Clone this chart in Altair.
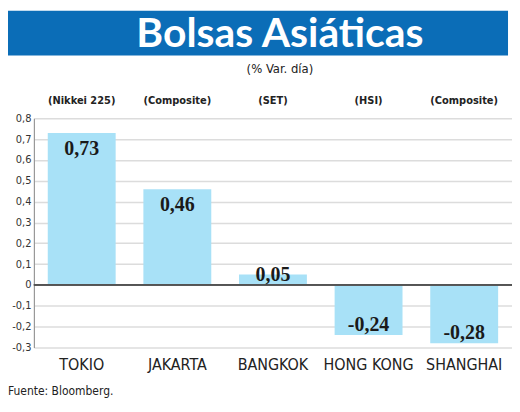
import pandas as pd
import altair as alt

# Data
cities = ["TOKIO", "JAKARTA", "BANGKOK", "HONG KONG", "SHANGHAI"]
indices = ["(Nikkei 225)", "(Composite)", "(SET)", "(HSI)", "(Composite)"]
changes = [0.73, 0.46, 0.05, -0.24, -0.28]
ticks = [-0.3, -0.2, -0.1, 0, 0.1, 0.2, 0.3, 0.4, 0.5, 0.6, 0.7, 0.8]

df = pd.DataFrame({"city": cities, "index": indices, "v": changes})
df["label"] = [f"{v:.2f}".replace(".", ",") for v in changes]

narrow = "DejaVu Sans Condensed, Roboto, sans-serif"
W, H = 480, 230

xscale = alt.Scale(paddingInner=0.29, paddingOuter=0.145)
xaxis = alt.Axis(labelAngle=0, domain=False, ticks=False, labelPadding=9,
                 labelFont=narrow, labelFontSize=16, labelColor="#222")
yscale = alt.Scale(domain=[-0.3, 0.8], nice=False, zero=False)
yaxis = alt.Axis(values=ticks,
                 labelExpr="datum.value == 0 ? '0' : replace(replace(format(datum.value, '.1f'), '.', ','), '\u2212', '-')",
                 labelOverlap=False, ticks=False, labelPadding=3,
                 domainColor="#999", domainWidth=1.2,
                 gridColor="#dcdcdc", gridWidth=1.5,
                 labelFont=narrow, labelFontSize=11, labelColor="#333")


def xenc():
    return alt.X("city:N", sort=cities, title=None, scale=xscale, axis=xaxis)


def yenc(field):
    return alt.Y(field, scale=yscale, title=None, axis=yaxis)


base = alt.Chart(df)

bars = base.mark_bar(color="#a8e1f7").encode(x=xenc(), y=yenc("v:Q"))

zero = base.mark_rule(color="#555", strokeWidth=1.2).encode(y=yenc("z:Q")).transform_calculate(z="0")

values = base.transform_calculate(
    ly="datum.v > 0.1 ? datum.v - 0.075 : (datum.v > 0 ? datum.v : datum.v + 0.05)"
).mark_text(font="Liberation Serif", fontWeight="bold", fontSize=20, color="#1a1a1a",
            baseline="middle").encode(x=xenc(), y=yenc("ly:Q"), text="label:N")

idx = base.mark_text(font=narrow, fontSize=11, fontWeight="bold", color="#222",
                     baseline="middle").encode(x=xenc(), y=alt.value(-17), text="index:N")

banner = alt.Chart(pd.DataFrame({"t": ["Bolsas Asiáticas"]}))
band = banner.mark_rect(color="#0b6db7").encode(
    x=alt.value(-26), x2=alt.value(476), y=alt.value(-108), y2=alt.value(-63)
)
title = banner.mark_text(font="Lato", fontWeight="bold", fontSize=41, color="white",
                         baseline="middle").encode(
    x=alt.value(247), y=alt.value(-84), text="t:N"
)
sub = alt.Chart(pd.DataFrame({"t": ["(% Var. día)"]})).mark_text(
    font=narrow, fontSize=13, color="#222", baseline="middle").encode(
    x=alt.value(247), y=alt.value(-50), text="t:N"
)
source = alt.Chart(pd.DataFrame({"t": ["Fuente: Bloomberg."]})).mark_text(
    font=narrow, fontSize=12, color="#222", align="left", baseline="middle").encode(
    x=alt.value(-26), y=alt.value(274), text="t:N"
)

chart = alt.layer(bars, zero, values, idx, band, title, sub, source).properties(
    width=W, height=H,
    autosize=alt.AutoSizeParams(type="none"),
    padding={"left": 26, "top": 110, "right": 0, "bottom": 60},
    background="white",
).configure_view(stroke=None)

chart.save("out.html", embed_options={"renderer": "svg", "actions": False})
